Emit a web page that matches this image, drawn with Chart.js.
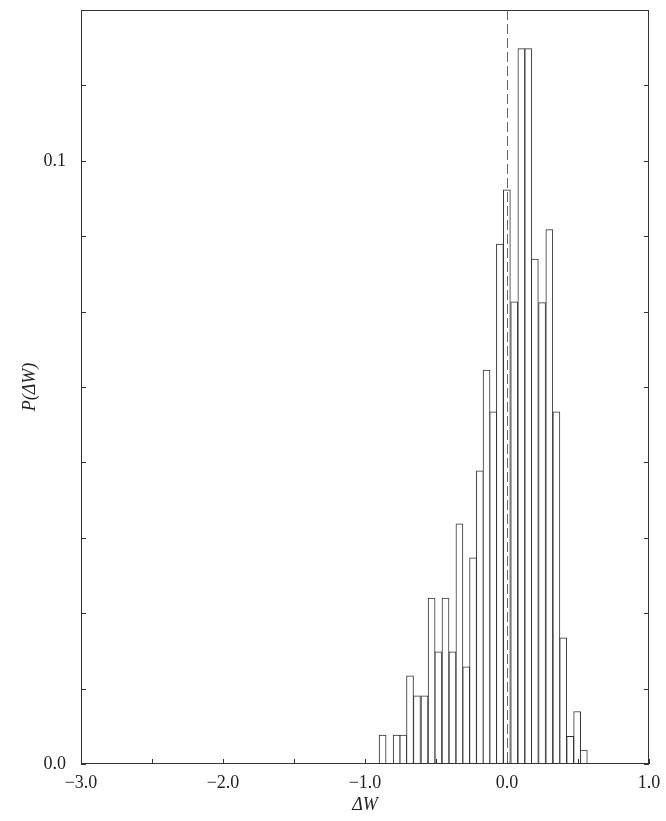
<!DOCTYPE html>
<html>
<head>
<meta charset="utf-8">
<script src="https://cdn.jsdelivr.net/npm/chart.js"></script>
<style>
  html, body { margin: 0; padding: 0; background: #fff; }
  canvas { display: block; }
</style>
</head>
<body>
<canvas id="myChart" width="666" height="821"></canvas>
<script>
// histogram bins (centre of each bin, ΔW)
const binCenters = [-0.876, -0.826, -0.777, -0.730, -0.683, -0.634, -0.581, -0.531, -0.483, -0.433,
                    -0.384, -0.335, -0.287, -0.239, -0.191, -0.144, -0.097, -0.050, -0.001, 0.051,
                     0.101,  0.150,  0.196,  0.247,  0.298,  0.348,  0.396,  0.445,  0.494, 0.541];
// P(ΔW) for each bin
const probs = [0.0048, 0.0, 0.0048, 0.0048, 0.0146, 0.0113, 0.0113, 0.0275, 0.0186, 0.0275,
               0.0186, 0.0398, 0.0161, 0.0342, 0.0486, 0.0653, 0.0584, 0.0862, 0.0952, 0.0766,
               0.1186, 0.1186, 0.0837, 0.0765, 0.0886, 0.0584, 0.0209, 0.0046, 0.0087, 0.0023];

// tick labels
const xTickValues = [-3, -2, -1, 0, 1];
const xTickLabels = ['\u22123.0', '\u22122.0', '\u22121.0', '0.0', '1.0'];
const yTickValues = [0, 0.1];
const yTickLabels = ['0.0', '0.1'];

const serif = "'Liberation Serif', 'DejaVu Serif', serif";
const ink = '#333';

function labelFor(v, vals, labs) {
  for (let i = 0; i < vals.length; i++) {
    if (Math.abs(v - vals[i]) < 1e-9) return labs[i];
  }
  return '';
}

// frame, inward ticks and the dashed line at ΔW = 0
const framePlugin = {
  id: 'frame',
  afterDatasetsDraw(chart) {
    const c = chart.ctx;
    const a = chart.chartArea;
    const xs = chart.scales.x, ys = chart.scales.y;
    c.save();
    c.strokeStyle = ink;
    c.lineWidth = 1;
    c.strokeRect(a.left + 0.5, a.top + 0.5, a.right - a.left - 1, a.bottom - a.top - 1);
    // y ticks, both sides
    ys.ticks.forEach(t => {
      const py = Math.round(ys.getPixelForValue(t.value)) + 0.5;
      c.beginPath();
      c.moveTo(a.left, py); c.lineTo(a.left + 5, py);
      c.moveTo(a.right - 5, py); c.lineTo(a.right, py);
      c.stroke();
    });
    // x ticks, bottom
    xs.ticks.forEach(t => {
      const px = Math.round(xs.getPixelForValue(t.value)) + 0.5;
      c.beginPath();
      c.moveTo(px, a.bottom); c.lineTo(px, a.bottom - 5);
      c.stroke();
    });
    // dashed zero line
    const zx = Math.round(xs.getPixelForValue(0)) + 0.5;
    c.strokeStyle = '#666';
    c.setLineDash([10, 4]);
    c.beginPath();
    c.moveTo(zx, a.top); c.lineTo(zx, a.bottom);
    c.stroke();
    c.restore();
  }
};

new Chart(document.getElementById('myChart'), {
  type: 'bar',
  data: {
    datasets: [{
      data: binCenters.map((x, i) => ({ x: x, y: probs[i] })),
      backgroundColor: '#fff',
      borderColor: ink,
      borderWidth: 1,
      barThickness: 7
    }]
  },
  options: {
    responsive: false,
    animation: false,
    devicePixelRatio: 1,
    layout: { padding: { left: 0, top: 10, right: 17, bottom: 0 } },
    plugins: { legend: { display: false }, tooltip: { enabled: false } },
    scales: {
      x: {
        type: 'linear',
        min: -3, max: 1,
        offset: false,
        grid: { display: false, drawTicks: false },
        border: { display: false },
        ticks: {
          stepSize: 0.5,
          autoSkip: false,
          maxRotation: 0,
          padding: 8,
          color: '#222',
          font: { family: serif, size: 18 },
          callback: v => labelFor(v, xTickValues, xTickLabels)
        },
        title: {
          display: true,
          text: '\u0394W',
          color: '#222',
          font: { family: serif, size: 18, style: 'italic' },
          padding: { top: 0, bottom: 5 }
        },
        afterFit(scale) {
          scale.height = 57;
          scale.paddingLeft = 0;
          scale.paddingRight = 0;
        }
      },
      y: {
        min: 0, max: 0.125,
        grid: { display: false, drawTicks: false },
        border: { display: false },
        ticks: {
          stepSize: 0.0125,
          autoSkip: false,
          padding: 15,
          color: '#222',
          font: { family: serif, size: 18 },
          callback: v => labelFor(v, yTickValues, yTickLabels)
        },
        title: {
          display: true,
          text: 'P(\u0394W)',
          color: '#222',
          font: { family: serif, size: 18, style: 'italic' },
          padding: { top: 19, bottom: 0 }
        },
        afterFit(scale) {
          scale.width = 81;
          scale.paddingTop = 0;
          scale.paddingBottom = 0;
        }
      }
    }
  },
  plugins: [framePlugin]
});
</script>
</body>
</html>
